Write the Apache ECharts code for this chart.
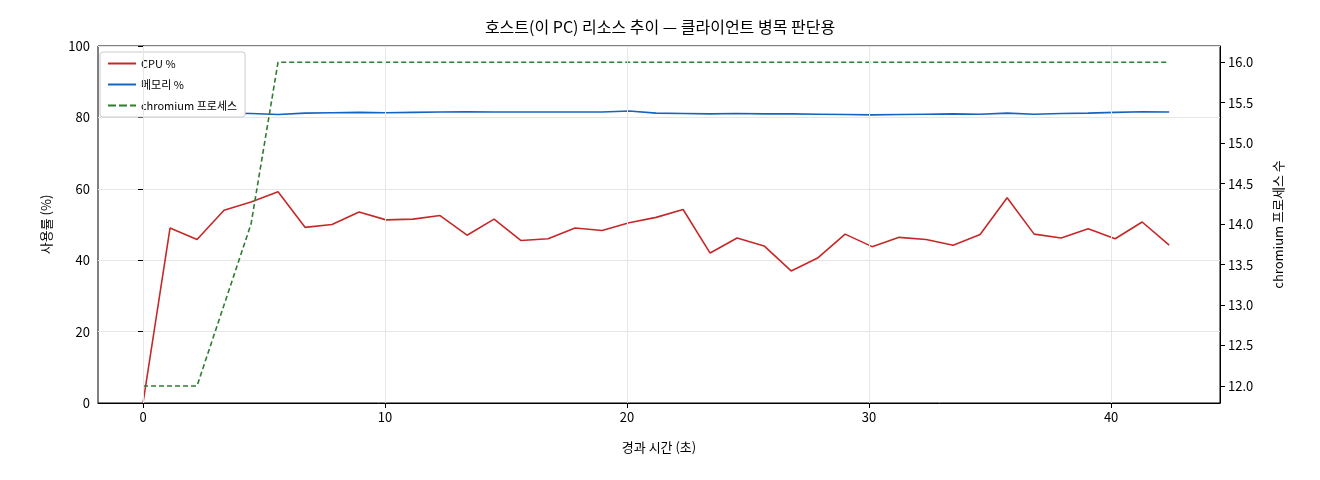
<!DOCTYPE html><html><head><meta charset="utf-8"><script src="https://cdn.jsdelivr.net/npm/echarts@6/dist/echarts.min.js"></script></head><body style="margin:0"><div id="c" style="width:1320px;height:480px"></div><script>
const dt = 42.4/38;
const cpu = [0,49,45.8,54,56.3,59.2,49.2,50,53.5,51.3,51.5,52.5,47,51.5,45.5,46,49,48.3,50.5,52,54.2,42,46.2,44,37,40.7,47.3,43.8,46.4,45.8,44.2,47.2,57.5,47.3,46.2,48.8,46,50.7,44.2];
const mem = [81,81.2,81.3,81.2,81.1,80.8,81.2,81.3,81.4,81.3,81.4,81.5,81.6,81.5,81.5,81.5,81.5,81.5,81.8,81.2,81.1,81,81.1,81,81,80.9,80.8,80.7,80.8,80.9,81,80.9,81.2,80.9,81.1,81.2,81.4,81.6,81.5];
const chrom = [12,12,12,13,14,16,16,16,16,16,16,16,16,16,16,16,16,16,16,16,16,16,16,16,16,16,16,16,16,16,16,16,16,16,16,16,16,16,16];
const xs = cpu.map((_, i) => +(i*dt).toFixed(3));
const pair = a => a.map((v,i)=>[xs[i],v]);
const F = "'Noto Sans CJK KR', sans-serif";
const ax = {color:'#000'};
echarts.init(document.getElementById('c')).setOption({
  animation:false,
  textStyle:{fontFamily:F},
  title:{text:'호스트(이 PC) 리소스 추이 — 클라이언트 병목 판단용',left:'center',top:14,textStyle:{fontFamily:F,fontSize:16,fontWeight:'normal',color:'#000'}},
  grid:{left:98,right:100,top:46,bottom:77,show:true,borderColor:'#000',borderWidth:1,backgroundColor:'transparent'},
  legend:{left:100,top:52,orient:'vertical',itemWidth:28,itemHeight:2,itemGap:10,borderColor:'#ccc',borderWidth:1,borderRadius:3,padding:[6,8],backgroundColor:'#fff',textStyle:{fontSize:11,fontFamily:F,color:'#000'},
    data:[{name:'CPU %',icon:'rect'},{name:'메모리 %',icon:'rect'},{name:'chromium 프로세스',icon:'path://M0,0h8v2h-8zM11,0h8v2h-8zM22,0h6v2h-6z'}]},
  xAxis:{type:'value',min:-1.86,max:44.5,name:'경과 시간 (초)',nameLocation:'middle',nameGap:38,nameTextStyle:{fontSize:13,color:'#000'},
    axisLine:{lineStyle:ax},axisTick:{show:true,customValues:[0,10,20,30,40],lineStyle:ax},
    axisLabel:{customValues:[0,10,20,30,40],color:'#000',fontSize:13},splitLine:{show:false}},
  yAxis:[{type:'value',min:0,max:100,interval:20,name:'사용률 (%)',nameLocation:'middle',nameGap:45,nameTextStyle:{fontSize:13,color:'#000'},
    axisLine:{show:true,lineStyle:ax},axisTick:{show:true,inside:false,lineStyle:ax},axisLabel:{color:'#000',fontSize:13},splitLine:{lineStyle:{color:'#e6e6e6'}}},
   {type:'value',min:11.79,max:16.2,name:'chromium 프로세스 수',nameLocation:'middle',nameGap:52,nameRotate:90,nameTextStyle:{fontSize:13,color:'#000'},
    axisLine:{show:true,lineStyle:ax},axisTick:{show:true,customValues:[12,12.5,13,13.5,14,14.5,15,15.5,16],lineStyle:ax},
    axisLabel:{customValues:[12,12.5,13,13.5,14,14.5,15,15.5,16],formatter:v=>v.toFixed(1),color:'#000',fontSize:13},splitLine:{show:false}}],
  series:[
   {name:'CPU %',type:'line',data:pair(cpu),symbol:'none',lineStyle:{color:'#c62828',width:1.6},itemStyle:{color:'#c62828'},
    markLine:{silent:true,symbol:'none',label:{show:false},lineStyle:{color:'#e6e6e6',type:'solid',width:1},data:[0,10,20,30,40].map(v=>({xAxis:v}))}},
   {name:'메모리 %',type:'line',data:pair(mem),symbol:'none',lineStyle:{color:'#1565c0',width:1.6},itemStyle:{color:'#1565c0'}},
   {name:'chromium 프로세스',type:'line',yAxisIndex:1,data:pair(chrom),symbol:'none',lineStyle:{color:'#2e7d32',width:1.6,type:[5,3]},itemStyle:{color:'#2e7d32'}}
  ]
});
</script></body></html>
